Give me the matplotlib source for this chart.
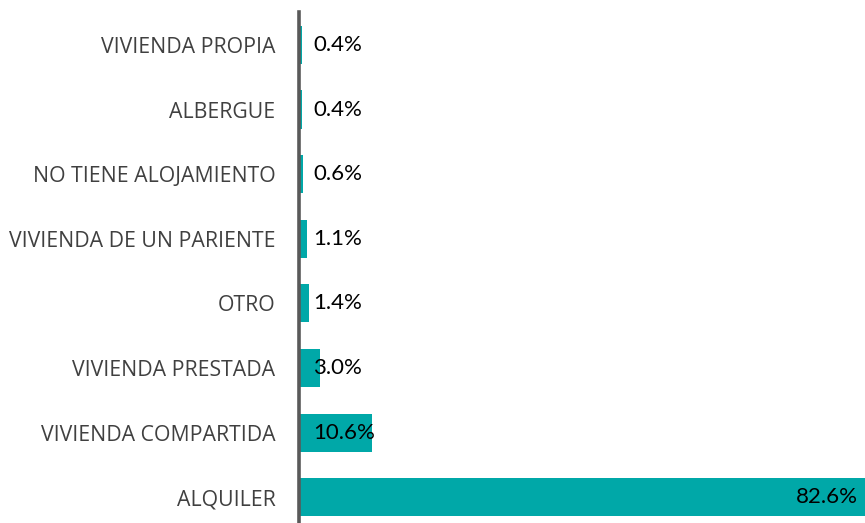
import numpy as np
import matplotlib
import matplotlib.pyplot as plt

matplotlib.use('agg')

categorias = ["ALQUILER", "VIVIENDA COMPARTIDA", "VIVIENDA PRESTADA", "OTRO",
              "VIVIENDA DE UN PARIENTE", "NO TIENE ALOJAMIENTO", "ALBERGUE",
              "VIVIENDA PROPIA"]
porcentajes = [82.6, 10.6, 3.0, 1.4, 1.1, 0.6, 0.4, 0.4]

W, H = 865, 523
fig = plt.figure(figsize=(W / 100, H / 100), dpi=100)
ax = fig.add_axes([299 / W, 0, 1 - 299 / W, 1 - 12 / H])

y = np.arange(len(categorias))
ax.barh(y, porcentajes, height=0.59, color='#00A8A8')

ax.set_xlim(0, max(porcentajes))
ax.set_ylim(-0.40, 7.51)

for s in ['top', 'right', 'bottom']:
    ax.spines[s].set_visible(False)
ax.spines['left'].set_color('#595959')
ax.spines['left'].set_linewidth(2.6)

ax.set_xticks([])
ax.set_yticks(y)
ax.set_yticklabels(categorias, family='Open Sans', fontsize=15.35, color='#404040')
ax.tick_params(axis='y', length=0, pad=17)

for i, v in enumerate(porcentajes):
    txt = f"{v:.1f}%"
    if v > 50:
        ax.text(v - 1.1, i, txt, ha='right', va='center', fontsize=16,
                family='Lato', color='black')
    else:
        ax.text(2.1, i, txt, ha='left', va='center', fontsize=16,
                family='Lato', color='black')

fig.savefig('out.png', dpi=100)
